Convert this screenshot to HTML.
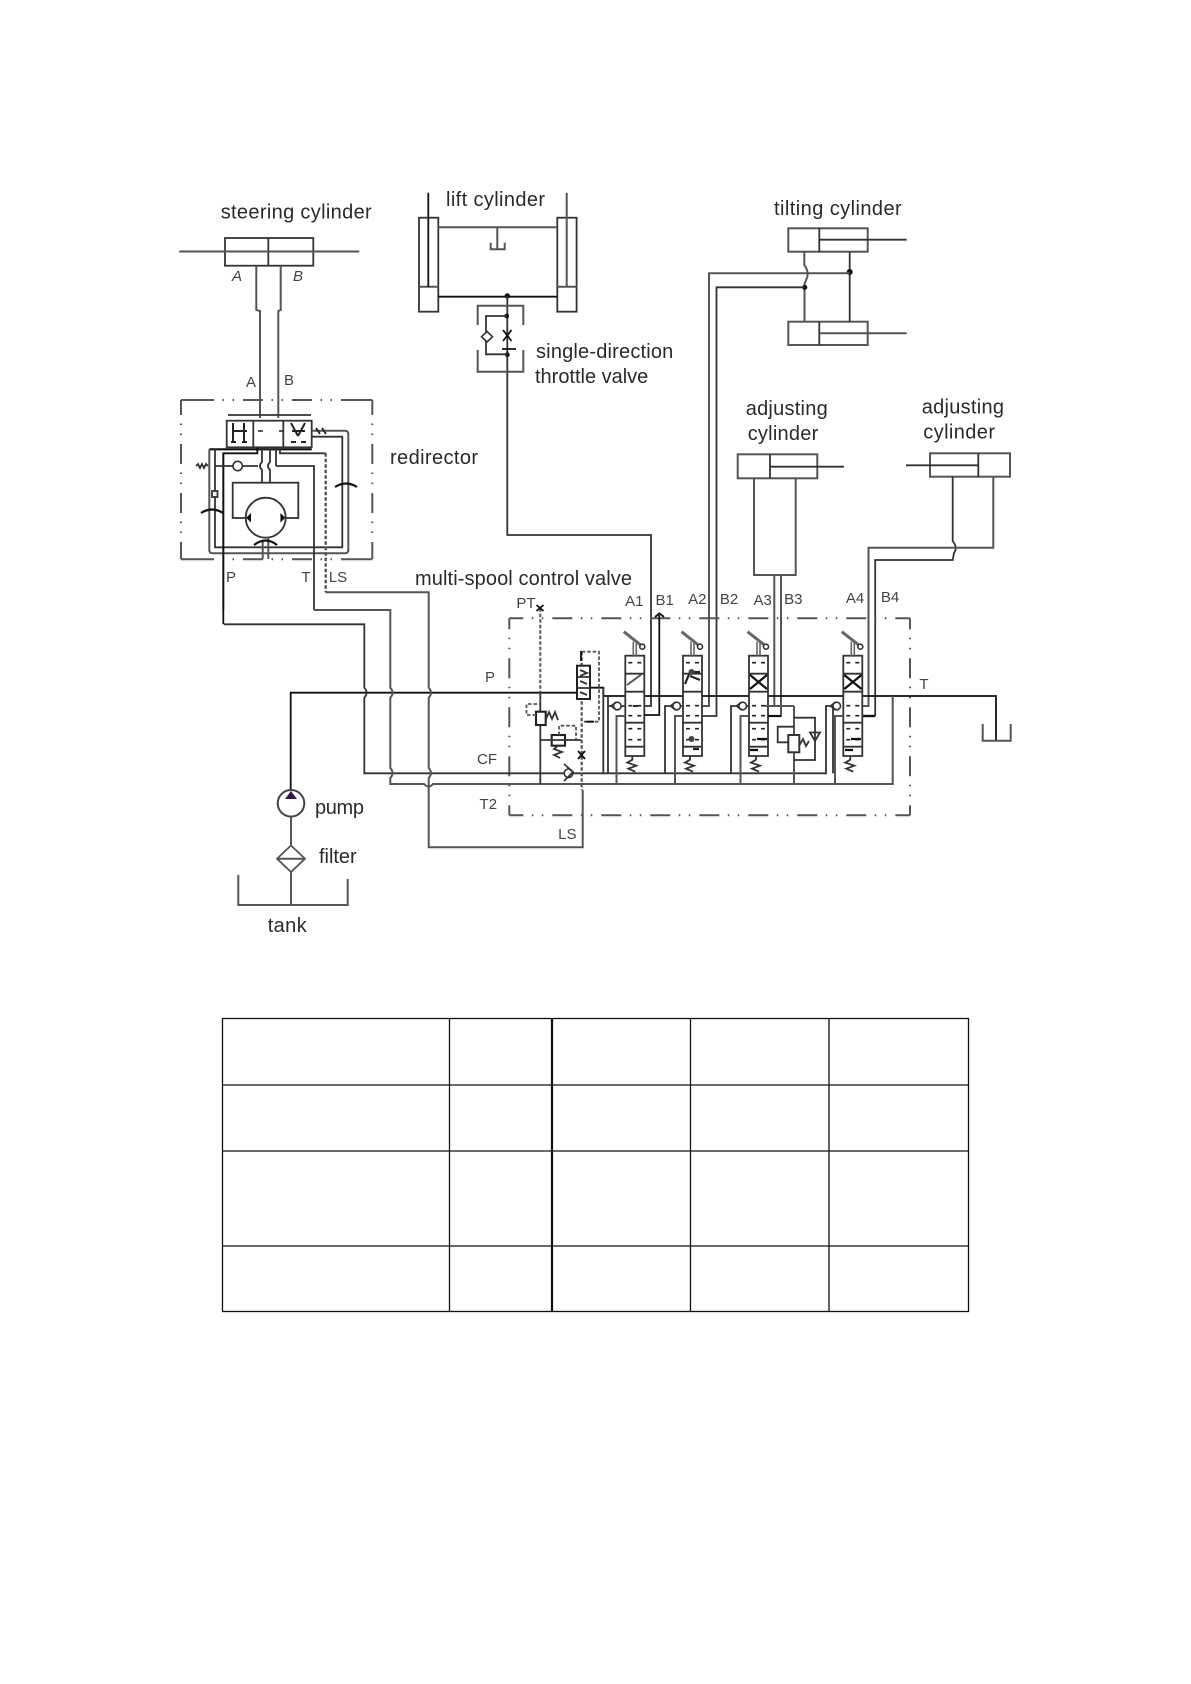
<!DOCTYPE html>
<html><head><meta charset="utf-8"><style>
html,body{margin:0;padding:0;background:#fff;width:1191px;height:1684px;overflow:hidden}
svg{display:block;position:absolute;left:0;top:0}
text{font-family:"Liberation Sans",sans-serif;fill:#2a2a2a;font-size:20px}
.s{font-size:15px;fill:#444}
.l{fill:none;stroke:#333;stroke-width:1.8}
.k{fill:none;stroke:#111;stroke-width:1.8}
.g{fill:none;stroke:#555;stroke-width:2}
.d{fill:none;stroke:#555;stroke-width:2}
.p{fill:none;stroke:#555;stroke-width:1.8;stroke-dasharray:3.5 2}
#dia{filter:blur(.35px)}
</style></head><body>
<svg width="1191" height="1684" viewBox="0 0 1191 1684" xmlns="http://www.w3.org/2000/svg">
<defs>
<g id="spool">
<rect x="0" y="0" width="19" height="100.3" fill="#fff" stroke="#333" stroke-width="1.8"/>
<path class="l" d="M0 18H19M0 36H19M0 67H19M0 91H19"/>
<path d="M3 7H7M12 7H16M3 50H7M12 50H16M3 60H7M12 60H16M3 73H7M12 73H16M3 84H7M12 84H16" stroke="#222" stroke-width="1.6" fill="none"/>
<path d="M8 0V-14M11 0V-14" fill="none" stroke="#666" stroke-width="1.6"/>
<path d="M-1.500 -24L15 -11" fill="none" stroke="#666" stroke-width="3"/>
<circle cx="17" cy="-9" r="2.500" fill="#fff" stroke="#333" stroke-width="1.600"/>
<path class="l" d="M7 100V104L2 107L11 110L3 113L10 116"/>
</g>
<g id="chk">
<circle cx="0" cy="0" r="3.800" fill="#fff" stroke="#333" stroke-width="1.600"/>
<path class="l" d="M-6 0L-1 -4M-6 0L-1 4"/>
</g>
</defs>
<g id="dia">
<!-- Steering cylinder -->
<g>
<rect class="l" x="225" y="238" width="88.300" height="27.700"/>
<path class="l" d="M268.300 238V265.700"/>
<path class="g" d="M179.300 251.500H359.300"/>
<path class="g" d="M256.300 265.700V310L260 311V418"/>
<path class="g" d="M280.700 265.700V310L278.300 311V418"/>
<text class="s" x="237" y="281" text-anchor="middle" font-style="italic">A</text>
<text class="s" x="298" y="281" text-anchor="middle" font-style="italic">B</text>
<text class="s" x="251" y="387" text-anchor="middle">A</text>
<text class="s" x="289" y="385" text-anchor="middle">B</text>
<text x="220.700" y="218.300" textLength="151" lengthAdjust="spacing">steering cylinder</text>
</g>

<!-- Redirector -->
<g>
<path class="d" d="M181 400H372.300M181 559.300H372.300" style="stroke-dasharray:33 8.500 1.500 8.500 1.500 9 20 8.500 1.500 8.500 1.500 9 20 8.500 1.500 8.500 1.500 9 33"/>
<path class="d" d="M181 400V559.300M372.300 400V559.300" style="stroke-dasharray:15 8.500 1.500 8.500 1.500 9 20 8.500 1.500 8.500 1.500 9 20 8.500 1.500 8.500 1.500 9 17"/>
<rect class="l" x="226.700" y="420.700" width="85" height="26.600"/>
<path class="l" d="M253.300 420.700V447.300M283.300 420.700V447.300M228 415H311"/>
<path class="k" d="M209.300 449.300H311.700" style="stroke-width:2.200"/>
<path d="M233 423V443M244 423V443M233 431H247M231 442H236M242 442H247M291 423L298 436M305 423L298 436M292 431H305M291 442H296M301 442H306" fill="none" stroke="#222" stroke-width="2"/>
<path d="M258 431H263M279 431H284" stroke="#222" stroke-width="1.600"/>
<path class="g" d="M311.700 430.700H345Q348.300 430.700 348.300 434V550Q348.300 553.300 345 553.300H212.600Q209.300 553.300 209.300 550V449.300"/>
<path class="l" d="M311.700 436.700H342.300V547.300H215V449.300"/>
<path d="M316 428L320 434M322 428L326 434" stroke="#222" stroke-width="1.800"/>
<path class="k" d="M223.300 610V453.300H257.300V447.300"/>
<path class="k" d="M223.300 453.300V624.300"/>
<path class="l" d="M215 466H258M276 466H314V610"/>
<path class="l" d="M280 447.300V453.300H325.700"/>
<path class="p" d="M325.700 453.300V592.300" style="stroke-width:2.400"/>
<circle cx="237.700" cy="466" r="4.700" fill="#fff" stroke="#333" stroke-width="1.600"/>
<path class="l" d="M196 466L198 464L200 468L202 464L204 468L206 464L208 466"/>
<path class="l" d="M262 447.300V462Q258 466 262 470V482.700M270 447.300V462Q266 466 270 470V482.700M276 447.300V466"/>
<rect class="l" x="232.700" y="482.700" width="65.600" height="35.300"/>
<circle cx="265.700" cy="517.700" r="20" fill="#fff" stroke="#333" stroke-width="1.800"/>
<path d="M246 517.700L251 513V522.500ZM285.400 517.700L280.400 513V522.500Z" fill="#111"/>
<path class="g" d="M262.700 541V559M268.300 537V559"/>
<path class="k" d="M254 545Q265.700 536 277 545M201 513Q212 506 223 513M335 487Q346 480 357 487" style="stroke-width:2.200"/>
<rect class="l" x="212" y="491" width="5.500" height="6" style="fill:#fff"/>
<text class="s" x="231" y="582" text-anchor="middle">P</text>
<text class="s" x="306" y="582" text-anchor="middle">T</text>
<text class="s" x="338" y="582" text-anchor="middle">LS</text>
<text x="390" y="464" textLength="88" lengthAdjust="spacing">redirector</text>
</g>

<!-- Lift cylinder -->
<g>
<rect class="l" x="419" y="217.700" width="19.300" height="94"/>
<rect class="l" x="557.300" y="217.700" width="19.300" height="94"/>
<path class="g" d="M419 286.700H438.300M557.300 286.700H576.700M438.300 227.300H557.300"/>
<path class="k" d="M428.300 192.700V286.700M438.300 296.700H557.300"/>
<path class="g" d="M566.700 192.700V286.700M497.300 227.300V249.300M490.700 242.700V249.300H504.700V242.700"/>
<circle cx="507.300" cy="296" r="2.700" fill="#111"/>
<path class="l" d="M507.300 296V535H651V706H638"/>
<path class="g" d="M477.700 325V305.700H523.300V325M477.700 350V371.700H523.300V350"/>
<circle cx="506.700" cy="316" r="2.400" fill="#111"/>
<circle cx="507.300" cy="354.700" r="2.400" fill="#111"/>
<path class="l" d="M506.700 316H486V354.300H507"/>
<path d="M487 331.500L492.500 336.700L487 342L481.500 336.700Z" fill="#fff" stroke="#333" stroke-width="1.600"/>
<path class="k" d="M503 330L511.500 341M511.500 330L503 341M502 349H516"/>
<text x="446" y="206" textLength="99" lengthAdjust="spacing">lift cylinder</text>
<text x="536" y="358" textLength="137.300" lengthAdjust="spacing">single-direction</text>
<text x="535" y="383" textLength="113.300" lengthAdjust="spacing">throttle valve</text>
</g>

<!-- Tilting cylinders -->
<g>
<rect class="g" x="788.300" y="228.300" width="79.400" height="23.400"/>
<rect class="g" x="788.300" y="321.700" width="79.400" height="23.300"/>
<path class="l" d="M819.300 228.300V251.700M819.300 321.700V345M819.300 239.700H906.700"/>
<path class="g" d="M819.300 333.300H906.700"/>
<path class="g" d="M804.300 251.700V265Q810 273 806 280L804.500 284V321.700"/>
<path class="l" d="M849.700 251.700V321.700"/>
<circle cx="849.700" cy="272" r="3" fill="#111"/>
<circle cx="804.700" cy="287.300" r="2.600" fill="#111"/>
<path class="g" d="M849.700 273.300H709V706H696.700"/>
<path class="l" d="M804.700 287.300H716.500V716H702.300"/>
<text x="774" y="215" textLength="127.700" lengthAdjust="spacing">tilting cylinder</text>
</g>

<!-- Adjusting cylinders -->
<g>
<rect class="g" x="737.700" y="454.300" width="79.600" height="24"/>
<path class="l" d="M770 454.300V478.300M770 466.700H844"/>
<path class="g" d="M754 478.300V575H795.700V478.300"/>
<path class="g" d="M774.300 575V706H765M781 575V716H768.300"/>
<rect class="g" x="930" y="453.300" width="80" height="23.400"/>
<path class="l" d="M978.300 453.300V476.700M906 465.300H978.300"/>
<path class="l" d="M952.700 476.700V541Q958 547.700 954 553L952.700 560H875.200V716"/>
<path class="g" d="M993.300 476.700V547.700H868.500V706H858"/>
<path class="k" d="M875.200 716H862.700" style="stroke-width:2.400"/>
<text x="745.700" y="415" textLength="82" lengthAdjust="spacing">adjusting</text>
<text x="747.700" y="440" textLength="70.600" lengthAdjust="spacing">cylinder</text>
<text x="921.700" y="413.300" textLength="82.300" lengthAdjust="spacing">adjusting</text>
<text x="923.300" y="438.300" textLength="71.700" lengthAdjust="spacing">cylinder</text>
</g>

<!-- Main circuit -->
<path class="d" d="M509.300 618.300H910M509.300 815.300H910" style="stroke-dasharray:20 8.500 1.500 8.500 1.500 9;stroke-dashoffset:6"/>
<path class="d" d="M509.300 618.300V815.300M910 618.300V815.300" style="stroke-dasharray:20 8.500 1.500 8.500 1.500 9;stroke-dashoffset:9"/>
<g>
<path class="k" d="M290.700 790V692.700H576.700"/>
<path class="k" d="M590 687.700H603.300V696H996V740"/>
<path class="g" d="M982.700 724V740.700H1010.700V724"/>
<path class="l" d="M224 624.300H364.300V687.700q4.500 5 0 10V773.300H603.300V687.700"/>
<path class="g" d="M314 610H390.300V687.700q4.500 5 0 10V768q4.500 5 0 10V784H424q4.700 5 9 0H892.700V696"/>
<path class="g" d="M325.700 592.300H428.700V687.700q4.500 5 0 10V768q4.500 5 0 10V847.300H582.700V790"/>
<path class="p" d="M581.700 651.700V790" style="stroke-width:2.200"/>
<path class="p" d="M540.300 608.300V692.700" style="stroke-width:2"/>
<path class="l" d="M540.300 692.700V784"/>
<path class="k" d="M536.500 605L543.500 611M543.500 605L536.500 611M578 751L585 759M585 751L578 759M655 617L660 613M659 613L664 617"/>
<path class="l" d="M603.300 773.300H826V706H836"/>
<!-- relief valves -->
<rect x="536" y="711.700" width="9.700" height="13.300" fill="#fff" stroke="#222" stroke-width="2.100"/>
<path class="p" d="M536 715H526.500V704H540"/>
<path class="l" d="M546 719L549 712L552 719L555 712L558 720"/>
<rect x="551.700" y="735" width="13.300" height="10.700" fill="#fff" stroke="#222" stroke-width="2.100"/>
<path class="p" d="M559 735V725.700H576V740"/>
<path class="l" d="M540.300 740H581M558 745.700L554 749L562 752L554 755L560 758"/>
<circle cx="568.500" cy="773.300" r="4.300" fill="#fff" stroke="#333" stroke-width="1.600"/>
<path class="l" d="M564 764L573 772L564 781"/>
<!-- Direction spool -->
<rect x="577" y="665.700" width="13" height="33.300" fill="#fff" stroke="#222" stroke-width="2"/>
<path class="l" d="M577 677H590M577 688H590M580 670L587 673L580 676M580 681L587 684M580 692L587 695"/>
<path class="p" d="M581.700 651.700H599V721.700H581.700"/>
<path class="k" d="M581 651V661M586 721.700H594"/>
<!-- Spools -->
<use href="#spool" x="625.300" y="655.700"/>
<use href="#spool" x="683" y="655.700"/>
<use href="#spool" x="749" y="655.700"/>
<use href="#spool" x="843.300" y="655.700"/>
<path class="g" d="M627 685L642 674"/>
<path d="M685 684L690 672H700M690 676L700 680M693 749H699" stroke="#222" stroke-width="2.200" fill="none"/>
<circle cx="691.500" cy="672" r="3" fill="#444"/>
<circle cx="691.500" cy="739" r="3" fill="#444"/>
<path class="k" d="M750 675L767 689M767 675L750 689M844.300 675L861.500 689M861.500 675L844.300 689" style="stroke-width:2.200"/>
<path class="k" d="M750 750H758M845 750H853M757 739H767M851 739H861" style="stroke-width:2.200"/>
<!-- checks & drains -->
<use href="#chk" x="617.300" y="706"/>
<use href="#chk" x="676.700" y="706"/>
<use href="#chk" x="742.700" y="706"/>
<use href="#chk" x="836.700" y="706"/>
<path class="l" d="M608 696V773.300M608.300 706H613M625.300 706H621"/>
<path class="g" d="M616.500 784V716H625.300"/>
<path class="l" d="M665 773.300V706H672M680.500 706H683"/>
<path class="g" d="M675 784V716H683"/>
<path class="l" d="M731 773.300V706H738M746 706H749"/>
<path class="g" d="M740.500 784V716H749"/>
<path class="l" d="M833 706V773.300"/>
<path class="g" d="M835 784V716H843.300"/>
<path class="k" d="M659.300 615V715H644.300"/>
<path class="k" d="M638 706H633"/>
<path class="g" d="M794 706V784M765 706H794"/>
<path class="k" d="M768.300 716H781" style="stroke-width:2.200"/>
<!-- valve 3 relief -->
<rect x="788.300" y="735" width="11" height="17.300" fill="#fff" stroke="#333" stroke-width="2"/>
<path class="l" d="M788.300 742.300H777.700V726.700H794M794 717.700H815V760H794M799.500 745L803 739L806 746L809 741"/>
<path class="l" d="M810 732.500H820L815 741Z"/>
<!-- labels -->
<text class="s" x="526" y="608" text-anchor="middle">PT</text>
<text class="s" x="634.300" y="606" text-anchor="middle">A1</text>
<text class="s" x="664.700" y="605" text-anchor="middle">B1</text>
<text class="s" x="697.300" y="604" text-anchor="middle">A2</text>
<text class="s" x="729" y="604" text-anchor="middle">B2</text>
<text class="s" x="762.700" y="605" text-anchor="middle">A3</text>
<text class="s" x="793.300" y="604" text-anchor="middle">B3</text>
<text class="s" x="855" y="603" text-anchor="middle">A4</text>
<text class="s" x="890" y="602" text-anchor="middle">B4</text>
<text class="s" x="924" y="689" text-anchor="middle">T</text>
<text class="s" x="490" y="682" text-anchor="middle">P</text>
<text class="s" x="487" y="764" text-anchor="middle">CF</text>
<text class="s" x="488.300" y="809" text-anchor="middle">T2</text>
<text class="s" x="567.300" y="839" text-anchor="middle">LS</text>
<text x="415" y="585" textLength="217" lengthAdjust="spacing">multi-spool control valve</text>
</g>

<!-- Pump, filter, tank -->
<g>
<circle cx="291" cy="803.300" r="13.300" fill="#fff" stroke="#444" stroke-width="2"/>
<path d="M291 791L297 799H285Z" fill="#3a1050"/>
<path class="g" d="M291 816.700V845M291 872V905M238.300 875V905H347.700V879"/>
<path d="M291 845.500L305 858.700L291 872L277 858.700Z" fill="none" stroke="#555" stroke-width="1.800"/>
<path class="g" d="M277 858.700H305"/>
<text x="315" y="814" textLength="49" lengthAdjust="spacing">pump</text>
<text x="319" y="863" textLength="37.700" lengthAdjust="spacing">filter</text>
<text x="267.700" y="932" textLength="39" lengthAdjust="spacing">tank</text>
</g>
</g>

<!-- Table -->
<g fill="none" stroke="#111" stroke-width="1.300">
<rect x="222.500" y="1018.500" width="746" height="293"/>
<path d="M222.500 1085H968.500M222.500 1151H968.500M222.500 1246H968.500M449.500 1018.500V1311.500M690.500 1018.500V1311.500M829 1018.500V1311.500"/>
<path d="M552 1018.500V1311.500" stroke-width="2.200"/>
</g>
</svg>
</body></html>
